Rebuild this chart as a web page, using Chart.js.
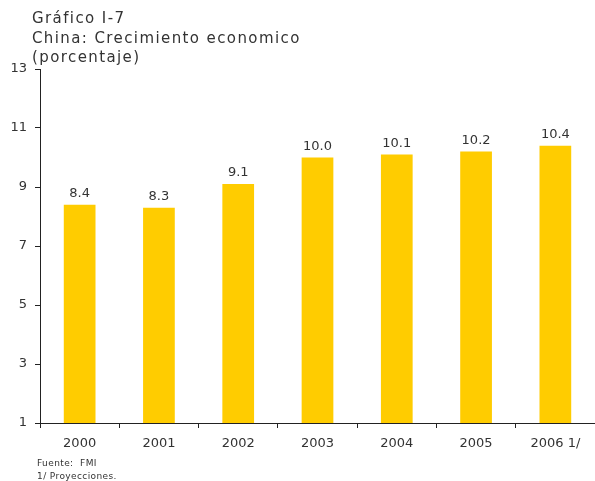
<!DOCTYPE html>
<html>
<head>
<meta charset="utf-8">
<script src="https://cdn.jsdelivr.net/npm/chart.js@4/dist/chart.umd.min.js"></script>
<style>
  html, body { margin: 0; padding: 0; background: #fff; }
  #wrap { width: 595px; height: 481px; position: relative; }
</style>
</head>
<body>
<div id="wrap"><canvas id="c" width="595" height="481"></canvas></div>
<script>
const years = ['2000', '2001', '2002', '2003', '2004', '2005', '2006 1/'];
const growth = [8.4, 8.3, 9.1, 10.0, 10.1, 10.2, 10.4];
const yTicks = [1, 3, 5, 7, 9, 11, 13];
const titleLines = ['Gráfico I-7', 'China: Crecimiento economico', '(porcentaje)'];
const footLines = ['Fuente:  FMI', '1/ Proyecciones.'];

const FONT = '"DejaVu Sans", Verdana, sans-serif';
const TEXT = '#333333';

const textPlugin = {
  id: 'texts',
  afterDraw(chart) {
    const ctx = chart.ctx;
    ctx.save();
    ctx.fillStyle = TEXT;
    ctx.textAlign = 'left';
    ctx.textBaseline = 'alphabetic';
    // heading block
    ctx.font = '15px ' + FONT;
    ctx.letterSpacing = '1.4px';
    titleLines.forEach((t, i) => ctx.fillText(t, 32, 23 + i * 19.5));
    // source notes
    ctx.font = '9px ' + FONT;
    ctx.letterSpacing = '0.4px';
    footLines.forEach((t, i) => ctx.fillText(t, 37, 466 + i * 13));
    ctx.letterSpacing = '0px';
    // value labels above the bars
    const meta = chart.getDatasetMeta(0);
    ctx.font = '13px ' + FONT;
    ctx.textAlign = 'center';
    meta.data.forEach((bar, i) => {
      ctx.fillText(growth[i].toFixed(1), bar.x, bar.y - 8);
    });
    ctx.restore();
  }
};

new Chart(document.getElementById('c'), {
  type: 'bar',
  data: {
    labels: years,
    datasets: [{
      data: growth,
      backgroundColor: '#FFCC00',
      borderWidth: 0,
      categoryPercentage: 1.0,
      barPercentage: 0.4
    }]
  },
  options: {
    responsive: false,
    animation: false,
    devicePixelRatio: 1,
    layout: { padding: { top: 69, right: 0, left: 0, bottom: 0 } },
    plugins: { legend: { display: false }, tooltip: { enabled: false } },
    scales: {
      x: {
        grid: { drawOnChartArea: false, drawTicks: true, tickLength: 5, color: '#222', offset: true },
        border: { color: '#222', width: 1 },
        ticks: { color: TEXT, font: { family: FONT, size: 13 }, padding: 8, maxRotation: 0 },
        afterFit(scale) { scale.height = 58; }
      },
      y: {
        min: 1, max: 13,
        afterBuildTicks(scale) { scale.ticks = yTicks.map(v => ({ value: v })); },
        grid: { drawOnChartArea: false, drawTicks: true, tickLength: 5, color: '#222' },
        border: { color: '#222', width: 1 },
        ticks: { color: TEXT, font: { family: FONT, size: 13 }, padding: 8 },
        afterFit(scale) { scale.width = 40; }
      }
    }
  },
  plugins: [textPlugin]
});
</script>
</body>
</html>
